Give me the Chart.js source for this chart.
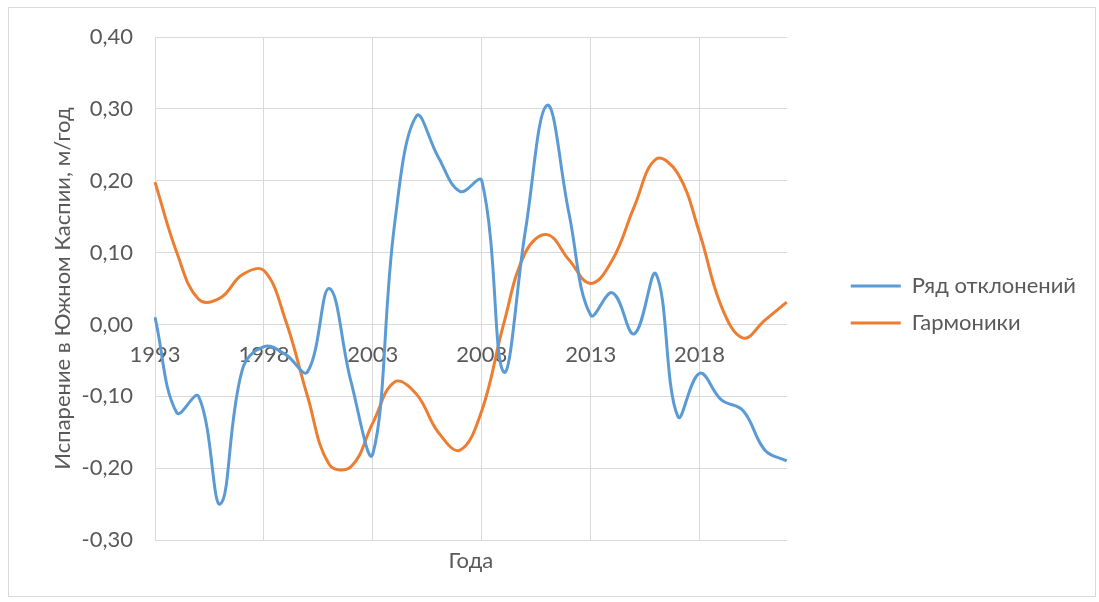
<!DOCTYPE html>
<html>
<head>
<meta charset="utf-8">
<style>
  html, body { margin: 0; padding: 0; background: #ffffff; }
  #wrap { position: relative; width: 1099px; height: 602px; }
  #frame { position: absolute; left: 8px; top: 7px; width: 1088px; height: 590px;
           border: 1px solid #d9d9d9; box-sizing: border-box; }
  #chart { position: absolute; left: 0; top: 0; }
</style>
<script src="https://cdn.jsdelivr.net/npm/chart.js@4/dist/chart.umd.min.js"></script>
</head>
<body>
<div id="wrap">
  <div id="frame"></div>
  <canvas id="chart" width="1099" height="602"></canvas>
</div>
<script>
// Years of observation
const years = ['1993','1994','1995','1996','1997','1998','1999','2000','2001','2002',
               '2003','2004','2005','2006','2007','2008','2009','2010','2011','2012',
               '2013','2014','2015','2016','2017','2018','2019','2020','2021','2022'];

// Evaporation anomalies, m/year
const deviations = [0.010, -0.123, -0.100, -0.250, -0.064, -0.031, -0.042, -0.066, 0.050, -0.080,
                    -0.180, 0.140, 0.290, 0.233, 0.185, 0.200, -0.066, 0.130, 0.305, 0.155,
                    0.013, 0.044, -0.013, 0.070, -0.128, -0.068, -0.105, -0.120, -0.175, -0.190];

// Sum of harmonics fitted to the anomalies, m/year
const harmonics = [0.198, 0.100, 0.035, 0.037, 0.069, 0.075, 0.005, -0.100, -0.195, -0.198,
                   -0.137, -0.080, -0.097, -0.150, -0.175, -0.120, 0.000, 0.100, 0.125, 0.090,
                   0.057, 0.090, 0.164, 0.230, 0.210, 0.127, 0.025, -0.019, 0.006, 0.031];

const seriesNames = ['Ряд отклонений', 'Гармоники'];
const yTitle = 'Испарение в Южном Каспии, м/год';
const xTitle = 'Года';

const textColor = '#595959';
const gridColor = '#d9d9d9';
const fontFamily = 'Lato, "Open Sans", sans-serif';

const chart = new Chart(document.getElementById('chart'), {
  type: 'line',
  data: {
    labels: years,
    datasets: [
      { label: seriesNames[0], data: deviations, borderColor: '#5b9bd5', backgroundColor: '#5b9bd5',
        borderWidth: 3, pointRadius: 0, tension: 0.4, fill: false },
      { label: seriesNames[1], data: harmonics, borderColor: '#ed7d31', backgroundColor: '#ed7d31',
        borderWidth: 3, pointRadius: 0, tension: 0.4, fill: false }
    ]
  },
  options: {
    responsive: false,
    animation: false,
    devicePixelRatio: 1,
    layout: { padding: { left: 40, top: 37, right: 13, bottom: 30 } },
    plugins: {
      tooltip: { enabled: false },
      legend: {
        position: 'right',
        align: 'center',
        maxWidth: 400,
        labels: {
          usePointStyle: true,
          pointStyle: 'line',
          pointStyleWidth: 50,
          padding: 15,
          color: textColor,
          font: { family: fontFamily, size: 22 }
        }
      }
    },
    scales: {
      x: {
        type: 'category',
        position: 'bottom',
        offset: false,
        grid: {
          drawTicks: false,
          color: c => (c.index % 5 === 0 ? gridColor : 'rgba(0,0,0,0)')
        },
        border: { display: false },
        ticks: { display: false },
        title: {
          display: true, text: xTitle, color: textColor,
          font: { family: fontFamily, size: 22, lineHeight: 1 },
          padding: { top: 10, bottom: 0 }
        },
        afterFit: s => { s.height = 32; }
      },
      xLabels: {
        type: 'category',
        position: { y: 0 },
        offset: false,
        grid: { display: false, drawTicks: false },
        border: { display: false },
        ticks: {
          autoSkip: false, maxRotation: 0, minRotation: 0, padding: 17,
          color: textColor, font: { family: fontFamily, size: 22 },
          callback: (v, i) => (i % 5 === 0 ? years[i] : '')
        },
        afterFit: s => { s.height = 0; }
      },
      y: {
        position: 'left',
        min: -0.3,
        max: 0.4,
        grid: { color: gridColor, drawTicks: false },
        border: { display: true, color: gridColor },
        ticks: {
          stepSize: 0.1, padding: 22, color: textColor,
          font: { family: fontFamily, size: 22 },
          callback: v => v.toFixed(2).replace('.', ',')
        },
        title: {
          display: true, text: yTitle, color: textColor,
          font: { family: fontFamily, size: 22 },
          padding: { top: 10, bottom: 0 }
        },
        afterFit: s => { s.width = 115; }
      },
      legendGap: {
        type: 'linear',
        position: 'right',
        display: true,
        grid: { display: false, drawTicks: false },
        border: { display: false },
        ticks: { display: false },
        afterFit: s => { s.width = 49; }
      }
    }
  }
});
</script>
</body>
</html>
